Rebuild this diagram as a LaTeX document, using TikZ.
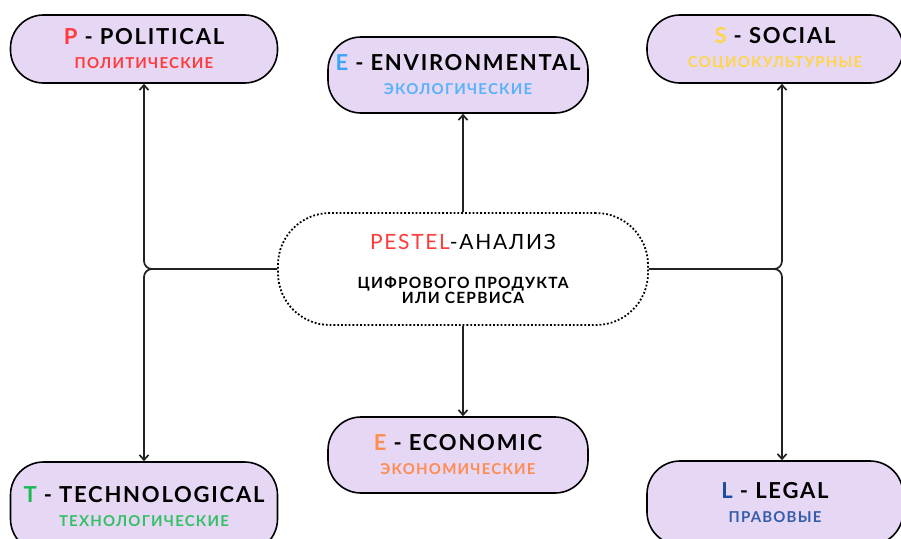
\documentclass[tikz,border=0pt]{standalone}
\usepackage{fontspec}
\setmainfont{Lato}
\newfontfamily\headfont[LetterSpace=8]{Lato}
\usetikzlibrary{arrows.meta}
\definecolor{polred}{HTML}{FF3B3B}
\definecolor{envblue}{HTML}{3DA5F5}
\definecolor{socyellow}{HTML}{FFD54A}
\definecolor{techgreen}{HTML}{1DB954}
\definecolor{econorange}{HTML}{FF8C50}
\definecolor{legalblue}{HTML}{1E4BA0}
\definecolor{lavender}{HTML}{E6D7F4}
\definecolor{linkgray}{HTML}{222222}
\newcommand{\pest}[5]{{\headfont\bfseries\fontsize{22}{26}\selectfont\textcolor{#1}{#2} - #3}\\[12pt]{\headfont\bfseries\fontsize{15}{18}\selectfont\textcolor{#4}{#5}}}

\begin{document}
\begin{tikzpicture}[x=1pt, y=-1pt,
    factor/.style={draw=black, line width=1.6pt, fill=lavender, rounded corners=33pt, align=center, inner sep=0pt},
    hub/.style={draw=black, dotted, line width=1.8pt, fill=white, rounded corners=52pt, align=center, inner sep=0pt},
    link/.style={line width=1.7pt, draw=linkgray, rounded corners=8pt, -{Straight Barb[length=5pt, width=9pt]}}]
    \useasboundingbox (0, 0) rectangle (901, 538);
    \clip (0, 0) rectangle (901, 538);
    \node[hub, minimum width=370pt, minimum height=112pt] (pestel) at (463, 269)
        {{\headfont\fontsize{21}{25}\selectfont\textcolor{polred}{PESTEL}-АНАЛИЗ}\\[27pt]
         {\headfont\bfseries\fontsize{15.5}{18}\selectfont ЦИФРОВОГО ПРОДУКТА}\\
         {\headfont\bfseries\fontsize{15.5}{18}\selectfont ИЛИ СЕРВИСА}};
    \node[factor, minimum width=267pt, minimum height=68pt] (P) at (144, 49)
        {\pest{polred}{P}{POLITICAL}{polred}{ПОЛИТИЧЕСКИЕ}};
    \node[factor, minimum width=260pt, minimum height=76pt] (Env) at (458, 75)
        {\pest{envblue}{E}{ENVIRONMENTAL}{envblue!85!white}{ЭКОЛОГИЧЕСКИЕ}};
    \node[factor, minimum width=256pt, minimum height=68pt] (S) at (775, 49)
        {\pest{socyellow}{S}{SOCIAL}{socyellow}{СОЦИОКУЛЬТУРНЫЕ}};
    \node[factor, minimum width=267pt, minimum height=90pt] (T) at (144, 507)
        {\pest{techgreen}{T}{TECHNOLOGICAL}{techgreen!90!white}{ТЕХНОЛОГИЧЕСКИЕ}};
    \node[factor, minimum width=260pt, minimum height=76pt] (Econ) at (458, 455)
        {\pest{econorange}{E}{ECONOMIC}{econorange}{ЭКОНОМИЧЕСКИЕ}};
    \node[factor, minimum width=256pt, minimum height=84pt] (L) at (775, 503)
        {\pest{legalblue}{L}{LEGAL}{legalblue!90!white}{ПРАВОВЫЕ}};
    % branch points
    \coordinate (lj) at (144, 269);
    \coordinate (rj) at (782, 269);
    \draw[link] (pestel.west) -| (lj |- P.south);
    \draw[link] (pestel.west) -| (lj |- T.north);
    \draw[link] (pestel.east) -| (rj |- S.south);
    \draw[link] (pestel.east) -| (rj |- L.north);
    \draw[link] (pestel.north) -- (pestel.north |- Env.south);
    \draw[link] (pestel.south) -- (pestel.south |- Econ.north);
\end{tikzpicture}
\end{document}
